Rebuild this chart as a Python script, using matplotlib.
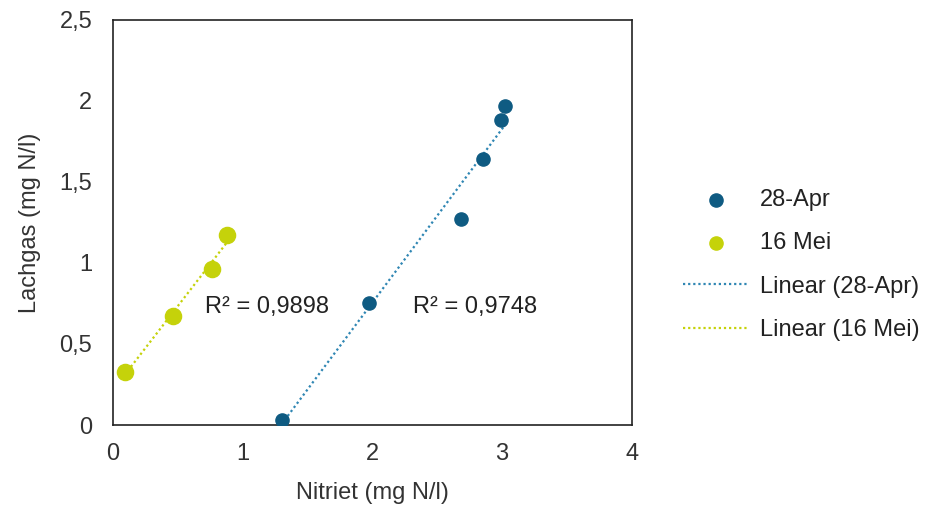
import numpy as np
import matplotlib.pyplot as plt
from matplotlib.ticker import FuncFormatter

plt.rcParams['font.family'] = ['Liberation Sans', 'DejaVu Sans']

# 28-Apr
apr_x = [1.30, 1.97, 2.68, 2.85, 2.99, 3.02]
apr_y = [0.03, 0.755, 1.27, 1.64, 1.88, 1.97]
# 16 Mei
mei_x = [0.09, 0.46, 0.76, 0.88]
mei_y = [0.325, 0.675, 0.965, 1.17]

r2_labels = ['R² = 0,9898', 'R² = 0,9748']

blue = '#0F5B82'
blue_line = '#2F86B3'
yellow = '#C5D20A'
fs = 17

fig = plt.figure(figsize=(9.28, 5.09), dpi=100)
ax = fig.add_axes([0.1218, 0.165, 0.559, 0.796])

ax.scatter(apr_x, apr_y, s=90, color=blue, label='28-Apr', zorder=3)
ax.scatter(mei_x, mei_y, s=135, color=yellow, label='16 Mei', zorder=3)

# trendlines
for xs, ys, c, lab in [(apr_x, apr_y, blue_line, 'Linear (28-Apr)'),
                       (mei_x, mei_y, yellow, 'Linear (16 Mei)')]:
    k, b = np.polyfit(xs, ys, 1)
    xx = np.array([min(xs), max(xs)])
    ax.plot(xx, k * xx + b, color=c, linestyle=(0, (1, 1.3)), linewidth=1.6, label=lab, zorder=2)

ax.text(0.71, 0.73, r2_labels[0], fontsize=fs, va='center', ha='left', color='#222222')
ax.text(2.31, 0.73, r2_labels[1], fontsize=fs, va='center', ha='left', color='#222222')

ax.set_xlim(0, 4)
ax.set_ylim(0, 2.5)
ax.set_xticks([0, 1, 2, 3, 4])
ax.set_yticks([0, 0.5, 1, 1.5, 2, 2.5])
fmt = FuncFormatter(lambda v, p: '{:g}'.format(v).replace('.', ','))
ax.xaxis.set_major_formatter(fmt)
ax.yaxis.set_major_formatter(fmt)
ax.tick_params(axis='y', length=0, labelsize=fs, labelcolor='#333333', pad=15)
ax.tick_params(axis='x', length=0, labelsize=fs, labelcolor='#333333', pad=13)
for s in ax.spines.values():
    s.set_color('#222222')
    s.set_linewidth(1.2)

ax.set_xlabel('Nitriet (mg N/l)', fontsize=fs, color='#333333', labelpad=12)
ax.set_ylabel('Lachgas (mg N/l)', fontsize=fs, color='#333333', labelpad=13)

leg = ax.legend(loc='center left', bbox_to_anchor=(1.081, 0.395), frameon=False, fontsize=fs,
                labelspacing=0.9, handlelength=2.8, handletextpad=0.45, borderaxespad=0,
                labelcolor='#222222')
for h in leg.legend_handles[:2]:
    h.set_sizes([90])

fig.savefig('out.png', dpi=100)
